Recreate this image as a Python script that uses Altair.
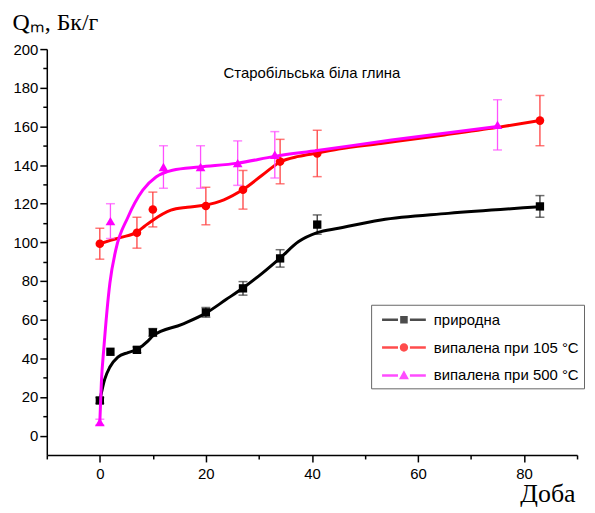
import altair as alt
import pandas as pd

# ---------------- data ----------------
series_names = ["природна", "випалена при 105 °C", "випалена при 500 °C"]
series_colors = ["#000000", "#ff0000", "#ff00ff"]
err_colors = ["#333333", "#ff4040", "#ff50ff"]

nat_x = [0, 2, 7, 10, 20, 27, 34, 41, 83]
nat_y = [18.2, 43.4, 44.4, 53.4, 63.8, 76.2, 91.7, 109.2, 118.6]
nat_err = [1.5, 0, 1.5, 2.0, 2.5, 3.5, 4.5, 5.0, 5.6]

r105_x = [0, 7, 10, 20, 27, 34, 41, 83]
r105_y = [99.3, 105.0, 117.0, 118.8, 127.2, 141.8, 146.0, 163.0]
r105_err = [8.0, 8.0, 9.0, 9.7, 10.0, 11.5, 12.0, 13.0]

r500_x = [0, 2, 12, 19, 26, 33, 75]
r500_y = [7.0, 111.0, 139.0, 139.0, 141.0, 145.3, 160.8]
r500_err = [1.5, 9.0, 11.0, 11.0, 11.5, 12.0, 13.0]

# smooth fitted curves
nat_curve_x = [0, 0.9, 1.9, 3.4, 5.3, 7.1, 9.1, 10, 15.5, 20, 23.8, 27, 30.6, 34, 37.5, 41, 45, 53, 65.7, 83]
nat_curve_y = [18.2, 29, 35.5, 40.6, 43, 44.7, 49, 51.6, 57.6, 63.4, 70.4, 76.4, 84, 91.9, 100.4, 105, 107.3, 111.6, 115, 118.4]

r105_curve_x = [0, 2, 4, 7, 8.5, 10, 13.4, 16.5, 19.7, 23.4, 27, 30.6, 34, 37.5, 41, 45, 53, 65, 75, 83]
r105_curve_y = [99.3, 101, 102.6, 105.3, 108.5, 111.5, 116.7, 118.2, 119.2, 122, 127.3, 134.7, 141.6, 144.5, 146.2, 148.3, 151.2, 155.6, 159.5, 163]

r500_curve_x = [0, 0.3, 0.75, 1.9, 3, 5.3, 8.1, 10.6, 13.7, 18.8, 26, 33, 41, 55, 75]
r500_curve_y = [7, 28, 45, 79, 96, 113, 127, 133.8, 137.3, 139, 141, 144.5, 147.5, 153, 160]

title_text = "Старобільська біла глина"
title_pos = (40, 187.7)

x_major = [0, 20, 40, 60, 80]
x_minor = [-10, 10, 30, 50, 70, 90]
y_major = list(range(0, 201, 20))
y_minor = list(range(10, 200, 20))

X_DOM = [-10, 90]
Y_DOM = [-10, 200]

# legend symbols: line with a gap and a marker (1 unit = 10 px at size 400)
line_part = "M-2.2,-0.125H-0.6V0.125H-2.2Z M0.6,-0.125H2.2V0.125H0.6Z "
legend_shapes = [
    line_part + "M-0.38,-0.38H0.38V0.38H-0.38Z",
    line_part + "M-0.42,0A0.42,0.42 0 1 0 0.42,0A0.42,0.42 0 1 0 -0.42,0Z",
    line_part + "M0,-0.52L0.5,0.38L-0.5,0.38Z",
]
marker_shapes = ["square", "circle", "triangle-up"]
marker_sizes = [70, 75, 95]

LABEL_FONT = "Liberation Sans"
SERIF = "Liberation Serif"


def xenc(axis=None):
    return alt.X("x:Q", scale=alt.Scale(domain=X_DOM, nice=False, zero=False), axis=axis)


def yenc(field="y", axis=None):
    return alt.Y(f"{field}:Q", scale=alt.Scale(domain=Y_DOM, nice=False, zero=False), axis=axis)


major_x_axis = alt.Axis(
    values=x_major, orient="bottom", tickSize=7, tickWidth=1.5, tickColor="black",
    domainColor="black", domainWidth=1.5, labelFont=LABEL_FONT, labelFontSize=15,
    labelColor="black", labelPadding=5, grid=False, labelFlush=False,
    title="Доба", titleFont=SERIF, titleFontSize=26, titleFontWeight="normal",
    titleColor="black", titleAnchor="end", titleAlign="right", titleBaseline="alphabetic",
    titleX=531, titleY=47,
)
major_y_axis = alt.Axis(
    values=y_major, orient="left", tickSize=7, tickWidth=1.5, tickColor="black",
    domainColor="black", domainWidth=1.5, labelFont=LABEL_FONT, labelFontSize=15,
    labelColor="black", labelPadding=2, grid=False, labelFlush=False,
    title="Qₘ, Бк/г", titleFont=SERIF, titleFontSize=24, titleFontWeight="normal",
    titleColor="black", titleAngle=0, titleAlign="left", titleBaseline="alphabetic",
    titleX=-35, titleY=-20,
)
minor_x_axis = alt.Axis(values=x_minor, orient="bottom", tickSize=4, tickWidth=1.5,
                        tickColor="black", labels=False, domain=False, grid=False, title=None)
minor_y_axis = alt.Axis(values=y_minor, orient="left", tickSize=4, tickWidth=1.5,
                        tickColor="black", labels=False, domain=False, grid=False, title=None)

series = [
    (nat_x, nat_y, nat_err, nat_curve_x, nat_curve_y),
    (r105_x, r105_y, r105_err, r105_curve_x, r105_curve_y),
    (r500_x, r500_y, r500_err, r500_curve_x, r500_curve_y),
]

layers = []
first = True
for i, (sx, sy, se, cx, cy) in enumerate(series):
    pts = pd.DataFrame({"x": sx, "y": sy, "lo": [a - b for a, b in zip(sy, se)],
                        "hi": [a + b for a, b in zip(sy, se)], "e": se})
    curve = pd.DataFrame({"x": cx, "y": cy})
    line = alt.Chart(curve).mark_line(color=series_colors[i], strokeWidth=3, interpolate="monotone").encode(
        x=xenc(major_x_axis if first else None),
        y=yenc("y", major_y_axis if first else None),
    )
    first = False
    eb = pts[pts["e"] > 0]
    rule = alt.Chart(eb).mark_rule(color=err_colors[i], strokeWidth=1.3).encode(
        x=xenc(), y=yenc("lo"), y2="hi:Q")
    cap_lo = alt.Chart(eb).mark_tick(color=err_colors[i], orient="horizontal", size=9, thickness=1.5).encode(
        x=xenc(), y=yenc("lo"))
    cap_hi = alt.Chart(eb).mark_tick(color=err_colors[i], orient="horizontal", size=9, thickness=1.5).encode(
        x=xenc(), y=yenc("hi"))
    pt = alt.Chart(pts).mark_point(shape=marker_shapes[i], filled=True, opacity=1,
                                   color=series_colors[i], size=marker_sizes[i]).encode(
        x=xenc(), y=yenc("y"))
    layers += [rule, cap_lo, cap_hi, line, pt]

legend_props = dict(
    title=None, orient="none", legendX=326, legendY=257, symbolSize=400,
    symbolStrokeWidth=0, symbolOffset=18, labelFont=LABEL_FONT, labelFontSize=15,
    labelColor="black", labelOffset=20, rowPadding=10, padding=5,
    strokeColor="#666666", fillColor="white", labelLimit=400,
)
legend_df = pd.DataFrame({"x": [0, 0, 0], "y": [0, 0, 0], "s": series_names})
legend_layer = alt.Chart(legend_df).transform_filter("false").mark_point(filled=True).encode(
    x=xenc(minor_x_axis),
    y=yenc("y", minor_y_axis),
    color=alt.Color("s:N", scale=alt.Scale(domain=series_names, range=series_colors),
                    legend=alt.Legend(**legend_props)),
    shape=alt.Shape("s:N", scale=alt.Scale(domain=series_names, range=legend_shapes),
                    legend=alt.Legend(**legend_props)),
)

title_df = pd.DataFrame({"x": [title_pos[0]], "y": [title_pos[1]], "t": [title_text]})
title_layer = alt.Chart(title_df).mark_text(font=LABEL_FONT, fontSize=15, color="black",
                                           align="center", baseline="middle").encode(
    x=xenc(), y=yenc("y"), text="t:N")

chart = alt.layer(legend_layer, *layers, title_layer).resolve_axis(
    x="independent", y="independent"
).properties(
    width=533, height=408,
    padding={"left": 39, "top": 40, "right": 10, "bottom": 52},
    autosize=alt.AutoSizeParams(type="none"),
    background="white",
).configure_view(stroke=None)

chart.save("out.html", embed_options={"renderer": "svg", "actions": False})
